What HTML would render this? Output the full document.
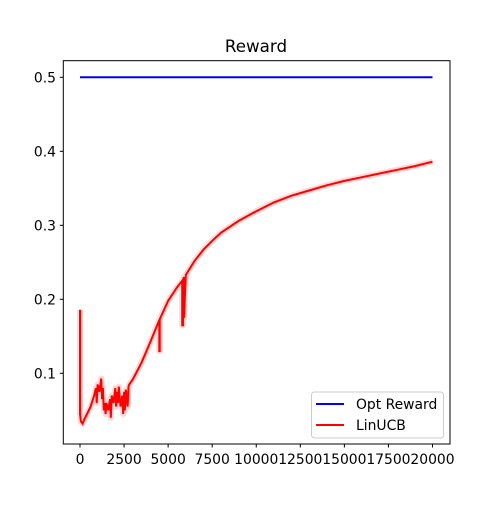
<!DOCTYPE html>
<html><head><meta charset="utf-8"><style>
body{margin:0;background:#fff;font-family:"Liberation Sans","DejaVu Sans",sans-serif;}
svg text{font-family:"DejaVu Sans","Liberation Sans",sans-serif;}
</style></head><body>
<svg id="chart" width="500" height="500" xmlns="http://www.w3.org/2000/svg"></svg>
<script>
const xTicks=[0,2500,5000,7500,10000,12500,15000,17500,20000];
const yTicks=[0.1,0.2,0.3,0.4,0.5];
const optX=[0,20000];
const optY=[0.5,0.5];
const linX=[0,0,50,150,250,400,600,800,900,950,1000,1100,1200,1250,1300,1350,1400,1450,1500,1600,1700,1750,1800,1900,2000,2050,2100,2150,2200,2300,2400,2450,2500,2550,2600,2700,2750,2800,3000,3500,4000,4500,4500,4520,4520,5000,5500,5800,5800,5850,5850,5900,5900,6000,6500,7000,7500,8000,9000,10000,11000,12000,13000,14000,15000,16000,17000,18000,19000,20000];
const linY=[0.186,0.045,0.035,0.032,0.038,0.045,0.055,0.07,0.08,0.06,0.085,0.075,0.093,0.065,0.08,0.05,0.06,0.045,0.06,0.05,0.065,0.04,0.07,0.06,0.08,0.055,0.075,0.06,0.082,0.055,0.07,0.045,0.075,0.05,0.078,0.055,0.082,0.085,0.092,0.115,0.143,0.172,0.13,0.13,0.173,0.198,0.216,0.225,0.165,0.165,0.227,0.23,0.175,0.233,0.252,0.267,0.279,0.29,0.306,0.319,0.331,0.34,0.347,0.354,0.36,0.365,0.37,0.375,0.38,0.386];
const X0=80,X1=432.5,Y5=77.3,Y1=373.3;
const sx=v=>X0+(X1-X0)*v/20000;
const sy=v=>Y1-(Y1-Y5)*(v-0.1)/0.4;
const svg=document.getElementById('chart');
const NS='http://www.w3.org/2000/svg';
function mk(tag,attrs,name){const e=document.createElementNS(NS,tag);for(const k in attrs)e.setAttribute(k,attrs[k]);


svg.appendChild(e);return e;}
const t=mk('text',{x:256,y:52,'text-anchor':'middle','font-size':16.7},'chart-title');t.textContent='Reward';
mk('rect',{x:63.3,y:60.7,width:386.7,height:383.3,fill:'none',stroke:'#000','stroke-width':1},'plot-frame');
xTicks.forEach(v=>{const x=sx(v);mk('line',{x1:x,x2:x,y1:444,y2:447.5,stroke:'#000'},'x-tick');
const l=mk('text',{x:x,y:464,'text-anchor':'middle','font-size':13.9},'x-tick-label');l.textContent=v;});
yTicks.forEach(v=>{const y=sy(v);mk('line',{x1:59.8,x2:63.3,y1:y,y2:y,stroke:'#000'},'y-tick');
const l=mk('text',{x:56,y:y+5,'text-anchor':'end','font-size':13.9},'y-tick-label');l.textContent=v.toFixed(1);});
const pts=(xs,ys)=>xs.map((x,i)=>sx(x).toFixed(1)+','+sy(ys[i]).toFixed(1)).join(' ');
mk('polyline',{points:pts(optX,optY),fill:'none',stroke:'#0000ff','stroke-width':2},'opt-reward-line');
mk('polyline',{points:pts(linX,linY),fill:'none',stroke:'#ffd6d6','stroke-width':6,'stroke-linejoin':'round'},'linucb-band');
mk('polyline',{points:pts(linX,linY),fill:'none',stroke:'#ff0000','stroke-width':2},'linucb-line');
mk('rect',{x:311.5,y:392,width:132,height:46,rx:3,fill:'#fff',stroke:'#ccc'},'legend-box');
mk('line',{x1:316,x2:344,y1:404,y2:404,stroke:'#0000ff','stroke-width':2},'legend-opt-swatch');
let a=mk('text',{x:356,y:409,'font-size':13.9},'legend-opt-label');a.textContent='Opt Reward';
mk('line',{x1:316,x2:344,y1:425,y2:425,stroke:'#ff0000','stroke-width':2},'legend-linucb-swatch');
a=mk('text',{x:356,y:430,'font-size':13.9},'legend-linucb-label');a.textContent='LinUCB';
</script>
</body></html>
